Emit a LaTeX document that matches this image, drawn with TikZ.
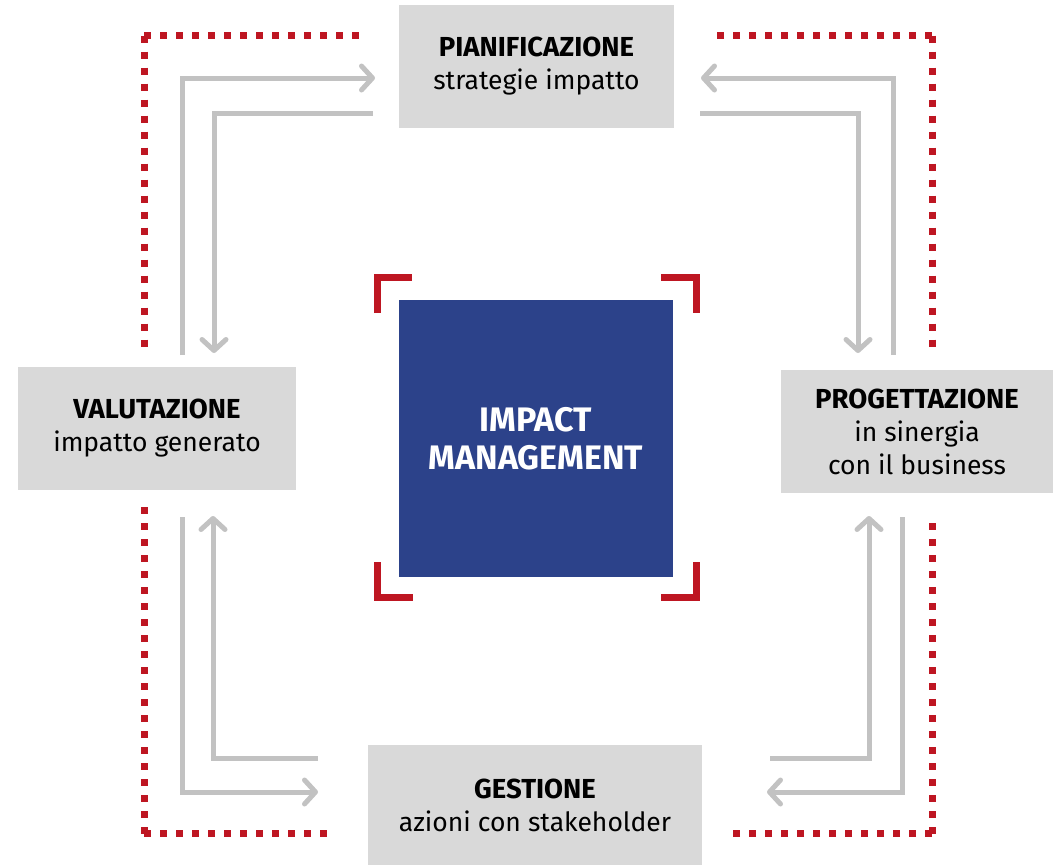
\documentclass[tikz,border=0pt]{standalone}
\usepackage{fontspec}
\setmainfont{Fira Sans}
\usetikzlibrary{arrows.meta}
\definecolor{boxgray}{HTML}{D9D9D9}
\definecolor{arrgray}{HTML}{C2C2C2}
\definecolor{impred}{HTML}{BE1622}
\definecolor{impblue}{HTML}{2C428A}
\newcommand{\hd}[1]{{\fontsize{27.5}{33}\selectfont\bfseries #1}}
\begin{document}
\begin{tikzpicture}[x=1pt,y=-1pt,
  gbox/.style={fill=boxgray, draw=none, inner sep=0pt, align=center, font=\fontsize{26.5}{33}\selectfont, text=black},
  flow/.style={draw=arrgray, line width=5pt, line join=miter},
  flowtip/.style={flow, -{Straight Barb[length=11pt,width=24pt,line cap=round,line join=round]}},
  reddots/.style={draw=impred, line width=7pt, dash pattern=on 7pt off 9pt},
  bracket/.style={draw=impred, line width=7pt, line join=miter}]
\useasboundingbox (0,0) rectangle (1057,865);

% boxes
\node[gbox, minimum width=275pt, minimum height=123pt] (plan) at (536.5,66.5) {\hd{PIANIFICAZIONE}\\strategie impatto};
\node[gbox, minimum width=278pt, minimum height=123pt] (valu) at (157,428.5) {\hd{VALUTAZIONE}\\impatto generato};
\node[gbox, minimum width=272pt, minimum height=123pt] (prog) at (917,431.5) {\hd{PROGETTAZIONE}\\in sinergia\\con il business};
\node[gbox, minimum width=334pt, minimum height=120pt] (gest) at (535,805) {\hd{GESTIONE}\\azioni con stakeholder};
\node[fill=impblue, minimum width=274pt, minimum height=277pt, inner sep=0pt, align=center,
      text=white, font=\fontsize{34}{38}\selectfont\bfseries] (core) at (536,438.5) {IMPACT\\MANAGEMENT};

% red brackets around core
\draw[bracket] (377,313) -- (377,277) -- (412,277);
\draw[bracket] (661,277) -- (696,277) -- (696,313);
\draw[bracket] (377,562) -- (377,597) -- (413,597);
\draw[bracket] (661,597) -- (696,597) -- (696,562);

% red dotted frame
\draw[reddots] (144,35.5) -- (368,35.5);
\draw[reddots] (144,35.5) -- (144,347);
\draw[reddots] (932,35.5) -- (715,35.5);
\draw[reddots] (932,35.5) -- (932,347);
\draw[reddots] (144,833.5) -- (144,505);
\draw[reddots] (144,833.5) -- (332,833.5);
\draw[reddots] (932,833.5) -- (932,519);
\draw[reddots] (932,833.5) -- (733,833.5);

% named ends
\coordinate (tlA) at (182,355);  \coordinate (tlB) at (375,78);
\coordinate (tlC) at (373,113);  \coordinate (tlD) at (214,353);
\coordinate (trA) at (893,355);  \coordinate (trB) at (701,78);
\coordinate (trC) at (700,113);  \coordinate (trD) at (858,353);
\coordinate (blA) at (182,517);  \coordinate (blB) at (318,792);
\coordinate (blC) at (318,758);  \coordinate (blD) at (213,516);
\coordinate (brA) at (902,517);  \coordinate (brB) at (767,792);
\coordinate (brC) at (770,758);  \coordinate (brD) at (869,516);

% gray flow arrows
\draw[flowtip] (tlA) |- (tlB);
\draw[flowtip] (tlC) -| (tlD);
\draw[flowtip] (trA) |- (trB);
\draw[flowtip] (trC) -| (trD);
\draw[flowtip] (blA) |- (blB);
\draw[flowtip] (blC) -| (blD);
\draw[flowtip] (brA) |- (brB);
\draw[flowtip] (brC) -| (brD);
\end{tikzpicture}
\end{document}
